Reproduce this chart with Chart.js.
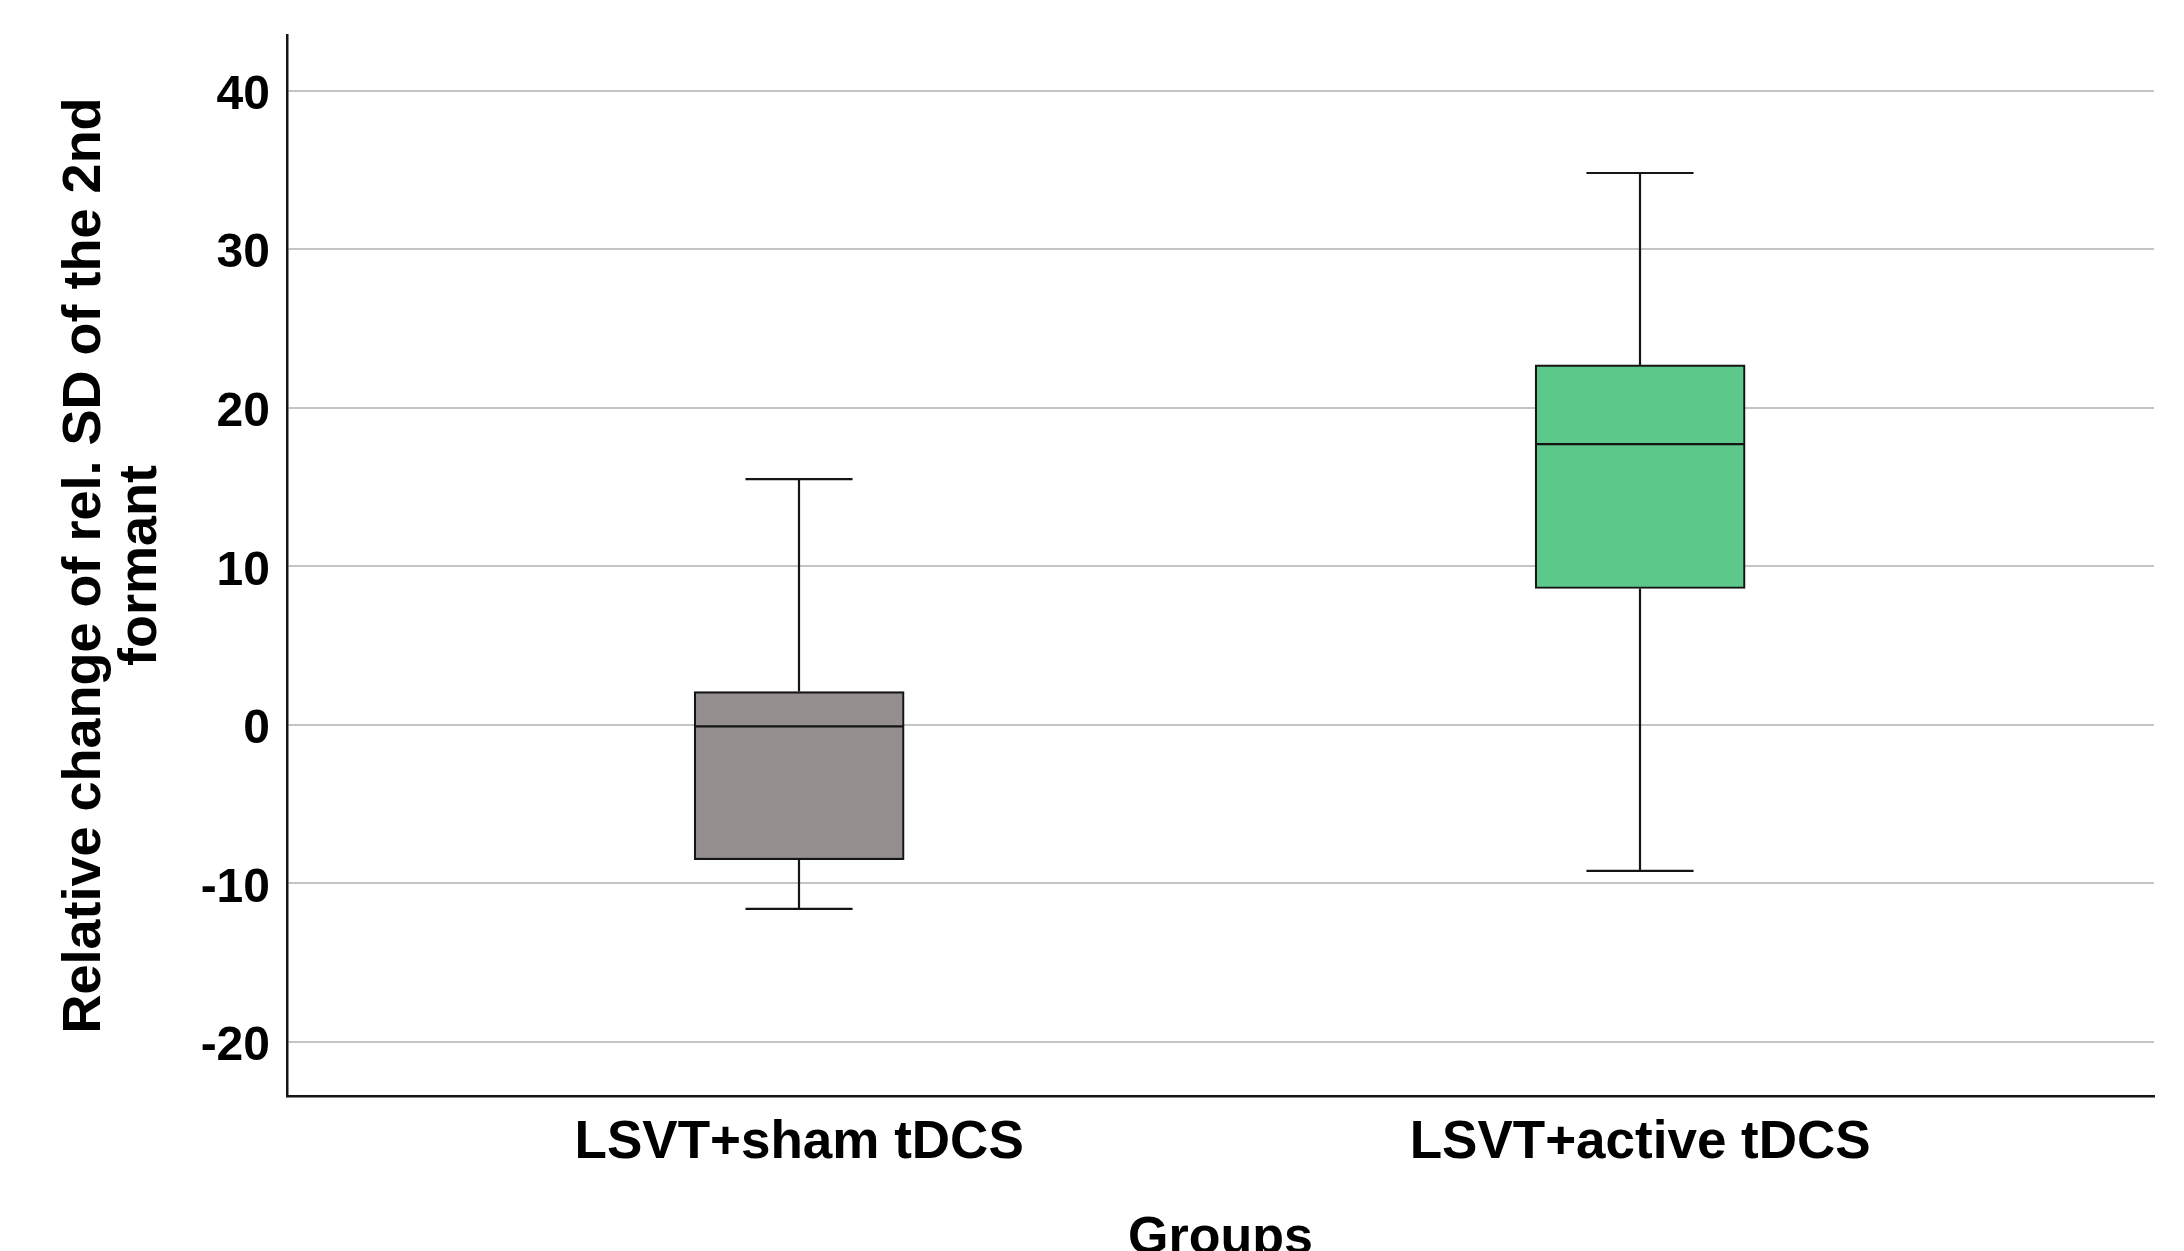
<!DOCTYPE html>
<html>
<head>
<meta charset="utf-8">
<script src="https://cdn.jsdelivr.net/npm/chart.js@4.4.1/dist/chart.umd.min.js"></script>
<style>
  html, body { margin: 0; padding: 0; background: #ffffff; }
  #wrap { width: 2184px; height: 1251px; position: relative; }
</style>
</head>
<body>
<div id="wrap"><canvas id="c"></canvas></div>
<script>
// ---- data ----
const categories   = ['LSVT+sham tDCS', 'LSVT+active tDCS'];
const whiskerLow   = [-11.6, -9.2];
const quartile1    = [-8.5, 8.6];
const medians      = [-0.1, 17.7];
const quartile3    = [2.1, 22.7];
const whiskerHigh  = [15.5, 34.8];
const yTickValues  = [-20, -10, 0, 10, 20, 30, 40];
const yTitleLines  = ['Relative change of rel. SD of the 2nd', 'formant'];
const xTitle       = 'Groups';

// ---- styles ----
const boxColors = ['#948f8e', '#5cc98a'];
const ink = '#151515';
const fontFamily = "'Liberation Sans', Arial, sans-serif";

const whiskerPlugin = {
  id: 'whiskers',
  afterDatasetsDraw(chart) {
    const { ctx, scales: { y } } = chart;
    const meta = chart.getDatasetMeta(0);
    ctx.save();
    ctx.strokeStyle = ink;
    ctx.lineWidth = 2.2;
    categories.forEach((c, i) => {
      const bar = meta.data[i];
      const cx = Math.round(bar.x);
      const halfBox = bar.width / 2;
      const halfCap = halfBox * 0.51;
      const yLo = y.getPixelForValue(whiskerLow[i]);
      const yQ1 = y.getPixelForValue(quartile1[i]);
      const yMed = y.getPixelForValue(medians[i]);
      const yQ3 = y.getPixelForValue(quartile3[i]);
      const yHi = y.getPixelForValue(whiskerHigh[i]);
      ctx.beginPath();
      ctx.moveTo(cx, yQ3); ctx.lineTo(cx, yHi);
      ctx.moveTo(cx - halfCap, yHi); ctx.lineTo(cx + halfCap, yHi);
      ctx.moveTo(cx, yQ1); ctx.lineTo(cx, yLo);
      ctx.moveTo(cx - halfCap, yLo); ctx.lineTo(cx + halfCap, yLo);
      ctx.moveTo(cx - halfBox, yMed); ctx.lineTo(cx + halfBox, yMed);
      ctx.stroke();
    });
    ctx.restore();
  }
};

new Chart(document.getElementById('c'), {
  type: 'bar',
  data: {
    datasets: [{
      data: categories.map((c, i) => ({ x: i, y: [quartile1[i], quartile3[i]] })),
      backgroundColor: boxColors,
      borderColor: ink,
      borderWidth: 2.2,
      borderSkipped: false,
      barThickness: 210
    }]
  },
  options: {
    responsive: true,
    maintainAspectRatio: false,
    devicePixelRatio: 1,
    animation: false,
    layout: { padding: { top: 35, right: 30, left: 0, bottom: 0 } },
    plugins: { legend: { display: false }, tooltip: { enabled: false } },
    scales: {
      x: {
        type: 'linear',
        offset: false,
        bounds: 'data',
        min: -0.609,
        max: 1.611,
        afterBuildTicks: (scale) => { scale.ticks = categories.map((c, i) => ({ value: i })); },
        afterFit: (scale) => { scale.height = 155; scale.paddingLeft = 0; scale.paddingRight = 0; },
        grid: { display: false, drawTicks: false },
        border: { display: true, color: ink, width: 2.5 },
        ticks: {
          callback: (v) => categories[v] !== undefined ? categories[v] : '',
          color: '#000',
          padding: 16,
          maxRotation: 0,
          autoSkip: false,
          font: { family: fontFamily, size: 53, weight: 'bold' }
        },
        title: {
          display: true,
          text: xTitle,
          color: '#000',
          padding: { top: 0, bottom: 0 },
          font: { family: fontFamily, size: 52, weight: 'bold', lineHeight: 0.46 }
        }
      },
      y: {
        type: 'linear',
        min: -23.4,
        max: 43.5,
        afterBuildTicks: (scale) => { scale.ticks = yTickValues.map(v => ({ value: v })); },
        afterFit: (scale) => { scale.width = 287; scale.paddingTop = 0; scale.paddingBottom = 0; },
        grid: { color: '#c4c4c4', lineWidth: 2, drawTicks: false },
        border: { display: true, color: ink, width: 2.5 },
        ticks: {
          color: '#000',
          padding: 17,
          labelOffset: 5,
          font: { family: fontFamily, size: 48, weight: 'bold' }
        },
        title: {
          display: true,
          text: yTitleLines,
          color: '#000',
          padding: { top: 57, bottom: 0 },
          font: { family: fontFamily, size: 54, weight: 'bold', lineHeight: 1.037 }
        }
      }
    }
  },
  plugins: [whiskerPlugin]
});
</script>
</body>
</html>
